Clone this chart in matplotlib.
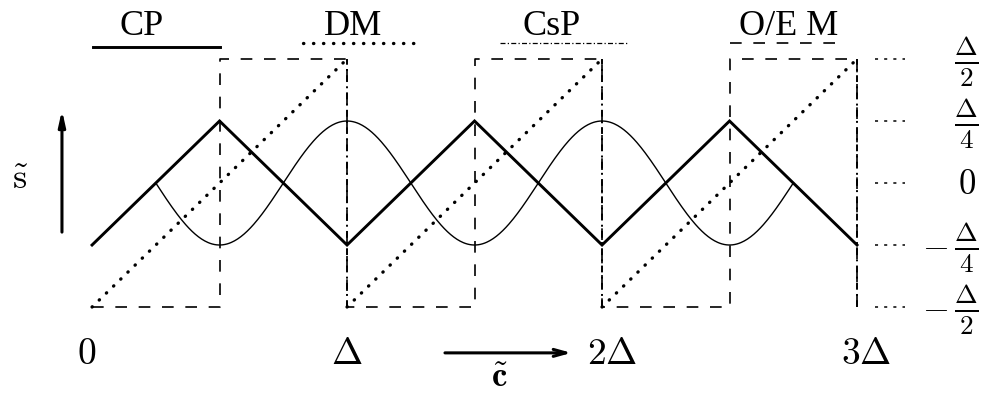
import numpy as np
import matplotlib.pyplot as plt

plt.rcParams['mathtext.fontset'] = 'cm'
plt.rcParams['font.family'] = ['Liberation Serif', 'DejaVu Serif']

# CP: triangle wave (Delta = 1)
cp_x = [0, 0.5, 1, 1.5, 2, 2.5, 3]
cp_y = [-0.25, 0.25, -0.25, 0.25, -0.25, 0.25, -0.25]

# DM: sawtooth ramps, one per period
dm_start = [0, 1, 2]
dm_end = [1, 2, 3]
dm_low = -0.5
dm_high = 0.5

# O/E M: square wave
oe_x = [0, 0.5, 0.5, 1, 1, 1.5, 1.5, 2, 2, 2.5, 2.5, 3, 3]
oe_y = [-0.5, -0.5, 0.5, 0.5, -0.5, -0.5, 0.5, 0.5, -0.5, -0.5, 0.5, 0.5, -0.5]

# CsP: vertical drops at the period borders
csp_x = [1, 2, 3]

# thin curve between the CP crossings
curve_start = 0.25
curve_end = 2.75
curve_amp = 0.25

# axis labels
x_ticks = [0, 1, 2, 3]
x_tick_labels = [r'$0$', r'$\Delta$', r'$2\Delta$', r'$3\Delta$']
y_levels = [0.5, 0.25, 0, -0.25, -0.5]
y_level_labels = [r'$\frac{\Delta}{2}$', r'$\frac{\Delta}{4}$', r'$0$',
                  r'$\frac{\Delta}{4}$', r'$\frac{\Delta}{2}$']
y_level_minus = [False, False, False, True, True]

legend_names = ['CP', 'DM', 'CsP', 'O/E M']

fig = plt.figure(figsize=(9.83, 3.99), dpi=100)
ax = fig.add_axes([0, 0, 1, 1])
ax.set_xlim(-0.361, 3.494)
ax.set_ylim(-0.871, 0.738)
ax.axis('off')

# thick triangle (CP)
ax.plot(cp_x, cp_y, color='black', lw=2.1, solid_joinstyle='miter')

# thin smooth curve
xc = np.linspace(curve_start, curve_end, 600)
ax.plot(xc, curve_amp * np.cos(2 * np.pi * xc), color='black', lw=1.0)

# dotted ramps (DM)
dot_style = dict(color='black', lw=2.4, ls=(0, (0.1, 2.9)), dash_capstyle='round')
for a, b in zip(dm_start, dm_end):
    ax.plot([a, b], [dm_low, dm_high], **dot_style)

# dashed square wave (O/E M)
ax.plot(oe_x, oe_y, color='black', lw=1.2, ls=(0, (7, 7)))

# dash-dot verticals (CsP)
for xv in csp_x:
    ax.plot([xv, xv], [dm_low, dm_high], color='black', lw=1.4,
            ls=(0, (3.5, 2.2, 1, 2.2)))

# short dotted guides on the right and level labels
for lev, lab, neg in zip(y_levels, y_level_labels, y_level_minus):
    ax.plot([3.07, 3.19], [lev, lev], color='black', lw=1.1, ls=(0, (2, 4)))
    size = 25 if lab == r'$0$' else 28
    ax.text(3.43, lev - 0.01, lab, fontsize=size, ha='center', va='center')
    if neg:
        ax.text(3.305, lev - 0.005, r'$-$', fontsize=25, ha='center', va='center')

# bottom tick labels
tick_offsets = [-0.02, 0.0, 0.04, 0.035]
for xt, lab, off in zip(x_ticks, x_tick_labels, tick_offsets):
    ax.text(xt + off, -0.694, lab, fontsize=27, ha='center', va='center')

# legend: name above a sample of the line style
legend_text_x = [0.196, 1.024, 1.804, 2.73]
legend_line_x = [(0.004, 0.502), (0.827, 1.294), (1.6, 2.1), (2.5, 2.94)]
legend_line_y = [0.548, 0.565, 0.565, 0.565]
legend_styles = [
    dict(lw=2.1, ls='-'),
    dict(lw=2.4, ls=(0, (0.1, 2.9)), dash_capstyle='round'),
    dict(lw=0.9, ls=(0, (4, 1.8, 1, 1.8))),
    dict(lw=1.2, ls=(0, (7, 7))),
]
for name, tx, (x0, x1), ly, st in zip(legend_names, legend_text_x, legend_line_x,
                                      legend_line_y, legend_styles):
    ax.text(tx, 0.63, name, fontsize=26, ha='center', va='center')
    ax.plot([x0, x1], [ly, ly], color='black', **st)

# axis arrows and names
ax.annotate('', xy=(-0.118, 0.294), xytext=(-0.118, -0.198),
            arrowprops=dict(arrowstyle='-|>,head_width=0.2,head_length=0.9',
                            color='black', lw=2.2, shrinkA=0, shrinkB=0))
ax.text(-0.282, 0.012, r'$\tilde{\mathrm{s}}$', fontsize=26, ha='center', va='center')

ax.annotate('', xy=(1.88, -0.685), xytext=(1.384, -0.685),
            arrowprops=dict(arrowstyle='->,head_width=0.25,head_length=0.9',
                            color='black', lw=2.2, shrinkA=0, shrinkB=0))
ax.text(1.6, -0.79, r'$\tilde{\mathbf{c}}$', fontsize=25, ha='center', va='center')

fig.savefig('out.png', dpi=100)
